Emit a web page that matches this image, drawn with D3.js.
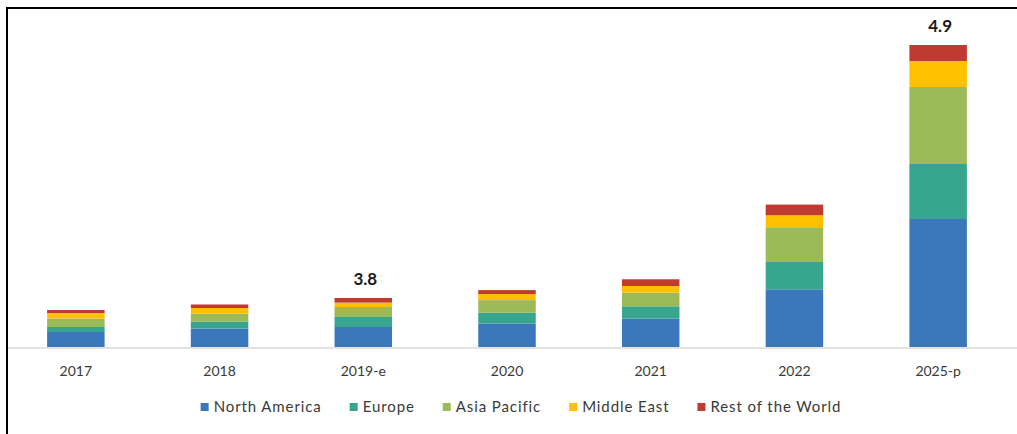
<!DOCTYPE html>
<html>
<head>
<meta charset="utf-8">
<script src="https://cdn.jsdelivr.net/npm/d3@7/dist/d3.min.js"></script>
<style>
  html, body { margin: 0; padding: 0; background: #fff; }
  svg { display: block; font-family: Lato, "Open Sans", sans-serif; }
</style>
</head>
<body>
<svg id="chart" width="1017" height="434"></svg>
<script>
// Market size by region, stacked per year
const years = ["2017", "2018", "2019-e", "2020", "2021", "2022", "2025-p"];
const regions = ["North America", "Europe", "Asia Pacific", "Middle East", "Rest of the World"];
const northAmerica = [1.50, 1.85, 2.00, 2.35, 2.84, 5.77, 12.80];
const europe       = [0.50, 0.70, 1.00, 1.07, 1.23, 2.73, 5.50];
const asiaPacific  = [0.85, 0.80, 1.00, 1.27, 1.37, 3.40, 7.70];
const middleEast   = [0.55, 0.55, 0.44, 0.60, 0.66, 1.27, 2.60];
const restOfWorld  = [0.30, 0.35, 0.46, 0.40, 0.67, 1.07, 1.60];
// Value callouts shown above selected bars
const calloutYears = ["2019-e", "2025-p"];
const calloutText  = ["3.8", "4.9"];

const colors = ["#3b77bb", "#38a68e", "#9bbb59", "#ffc000", "#bf3a30"];
const seriesValues = [northAmerica, europe, asiaPacific, middleEast, restOfWorld];

const rows = years.map((yr, i) => {
  const r = { year: yr };
  regions.forEach((reg, k) => { r[reg] = seriesValues[k][i]; });
  return r;
});

const svg = d3.select("#chart");
const W = 1017, H = 434;

// frame
svg.append("path")
  .attr("d", `M7,${H} L7,8 L${W},8`)
  .attr("fill", "none")
  .attr("stroke", "#000")
  .attr("stroke-width", 2);

const x = d3.scaleBand().domain(years).range([4, 1010]).paddingInner(0.6).paddingOuter(0.3);
const y = d3.scaleLinear().domain([0, 30]).range([347, 47]);

const stack = d3.stack().keys(regions);
const layers = stack(rows);

svg.append("g").selectAll("g")
  .data(layers)
  .join("g")
  .attr("fill", (d, i) => colors[i])
  .selectAll("rect")
  .data(d => d)
  .join("rect")
  .attr("x", d => x(d.data.year))
  .attr("width", x.bandwidth())
  .attr("y", d => y(d[1]))
  .attr("height", d => y(d[0]) - y(d[1]));

// category axis
const axis = svg.append("g")
  .attr("transform", `translate(0,${y(0) + 1})`)
  .call(d3.axisBottom(x).tickSize(0).tickPadding(18));
axis.select(".domain").attr("stroke", "#d9d9d9").attr("stroke-width", 1.5)
  .attr("d", `M8,0H${W}`);
axis.selectAll("text")
  .attr("font-family", "Lato, sans-serif")
  .attr("font-size", 14)
  .attr("fill", "#3a3a3a");

// callouts
const totals = new Map(rows.map(r => [r.year, d3.sum(regions, k => r[k])]));
svg.append("g").selectAll("text")
  .data(calloutYears)
  .join("text")
  .attr("x", d => x(d) + x.bandwidth() / 2 + 2)
  .attr("y", d => y(totals.get(d)) - 13)
  .attr("text-anchor", "middle")
  .attr("font-size", 17)
  .attr("font-weight", "bold")
  .attr("fill", "#1a1a1a")
  .text((d, i) => calloutText[i]);

// legend
const legend = svg.append("g").attr("transform", "translate(0,407)");
const items = legend.selectAll("g").data(regions).join("g");
items.append("rect")
  .attr("width", 8).attr("height", 8).attr("y", -4)
  .attr("fill", (d, i) => colors[i]);
items.append("text")
  .attr("x", 13).attr("dy", "0.35em")
  .attr("font-size", 15)
  .attr("letter-spacing", "0.9px")
  .attr("fill", "#3a3a3a")
  .text(d => d);
let cursor = 0;
const gap = 28;
const offsets = [];
items.each(function () {
  offsets.push(cursor);
  cursor += this.getBBox().width + gap;
});
const totalW = cursor - gap;
const startX = 521 - totalW / 2;
items.attr("transform", (d, i) => `translate(${startX + offsets[i]},0)`);
</script>
</body>
</html>
